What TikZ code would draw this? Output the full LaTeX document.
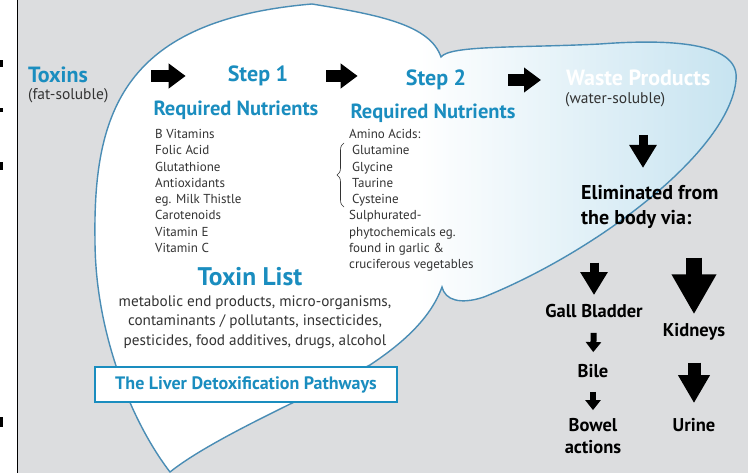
\documentclass[tikz,border=0pt]{standalone}
\usepackage{fontspec}
\setmainfont{PT Sans}
\usepackage{xcolor}
\usepackage{tikz}
\usetikzlibrary{arrows.meta, decorations.pathreplacing}
\definecolor{bggray}{HTML}{DCDDDF}
\definecolor{stepblue}{HTML}{1A8DBF}
\definecolor{liverline}{HTML}{4A8DB5}
\definecolor{liverblue}{HTML}{C6E3F0}
\definecolor{bodytext}{HTML}{333333}
\pgfdeclarehorizontalshading{liverfill}{100bp}{color(0bp)=(white); color(50bp)=(white); color(75bp)=(liverblue); color(100bp)=(liverblue)}
\tikzstyle{heading} = [inner sep=0pt, font=\bfseries\fontsize{22}{26}\selectfont, text=stepblue]
\tikzstyle{subheading} = [inner sep=0pt, font=\bfseries\fontsize{20.5}{24}\selectfont, text=stepblue]
\tikzstyle{note} = [inner sep=0pt, font=\fontsize{15.5}{18}\selectfont, text=bodytext]
\tikzstyle{nutrients} = [inner sep=0pt, anchor=north west, align=left, font=\fontsize{13}{16.3}\selectfont, text=bodytext]
\tikzstyle{organ} = [inner sep=0pt, align=center, font=\bfseries\fontsize{18.5}{22}\selectfont]
\tikzstyle{titlebox} = [draw=stepblue, line width=1.8pt, fill=white, minimum width=302pt, minimum height=35pt, font=\bfseries\fontsize{18}{20}\selectfont, text=stepblue]
\tikzstyle{fwdarrow} = [line width=12pt, -{Triangle[length=17pt, width=24pt]}]
\tikzstyle{droparrow} = [line width=9pt, -{Triangle[length=23pt, width=26pt]}]
\tikzstyle{bigarrow} = [line width=16pt, -{Triangle[length=40pt, width=42pt]}]
\tikzstyle{midarrow} = [line width=13pt, -{Triangle[length=28pt, width=30pt]}]
\tikzstyle{smallarrow} = [line width=6pt, -{Triangle[length=10pt, width=15pt]}]

\begin{document}
\begin{tikzpicture}[x=1pt, y=-1pt]
  \useasboundingbox (0,0) rectangle (748,473);

  % background
  \fill[bggray] (18,0) rectangle (748,473);
  \draw[line width=1pt] (17.5,0) -- (17.5,473);
  \foreach \y/\h in {60/7, 108/4, 162/8, 417/10}
    \fill (0,\y) rectangle (3,\y+\h);

  % liver
  \draw[liverline, line width=1.4pt, shade, shading=liverfill]
    (170,472) .. controls (130,420) and (95,330) .. (95,240)
    .. controls (93,110) and (125,20) .. (312,4)
    .. controls (380,15) and (430,25) .. (441,57)
    .. controls (450,45) and (520,48) .. (600,44)
    .. controls (680,38) and (740,45) .. (736,80)
    .. controls (730,150) and (600,250) .. (484,297)
    .. controls (460,305) and (445,300) .. (442,287)
    .. controls (430,320) and (400,345) .. (370,365)
    .. controls (300,400) and (210,440) .. (170,472) -- cycle;

  \node (toxins) [heading, anchor=west] at (28,75) {Toxins};
  \node (fat sol) [note, anchor=west] at (28,96) {(fat-soluble)};

  \node (step1) [heading] at (258,76) {Step 1};
  \node (req1) [subheading] at (236,110) {Required Nutrients};
  \node (list1) [nutrients] at (155,129) {B Vitamins\\Folic Acid\\Glutathione\\Antioxidants\\eg. Milk Thistle\\Carotenoids\\Vitamin E\\Vitamin C};

  \node (step2) [heading] at (436,80) {Step 2};
  \node (req2) [subheading] at (433,113) {Required Nutrients};
  \node (list2) [nutrients] at (349,129) {Amino Acids:\\\hspace*{3pt}Glutamine\\\hspace*{3pt}Glycine\\\hspace*{3pt}Taurine\\\hspace*{3pt}Cysteine\\Sulphurated-\\phytochemicals eg.\\found in garlic \&\\cruciferous vegetables};
  \draw[decorate, decoration={brace, amplitude=7pt}, line width=0.6pt, bodytext] (344,207) -- (344,143);

  \node (waste) [heading, text=white, anchor=west] at (566,78) {Waste Products};
  \node (water sol) [note, anchor=west] at (565,100) {(water-soluble)};

  \node (toxin list) [inner sep=0pt, font=\bfseries\fontsize{25.5}{28}\selectfont, text=stepblue] at (250,277) {Toxin List};
  \node (toxin text) [inner sep=0pt, align=center, font=\fontsize{15.2}{19.5}\selectfont, text=bodytext] at (255,322) {metabolic end products, micro-organisms,\\contaminants / pollutants, insecticides,\\pesticides, food additives, drugs, alcohol};
  \node (title) [titlebox] at (246,384.5) {The Liver Detoxification Pathways};

  \node (elim) [organ, align=left, anchor=north west, font=\bfseries\fontsize{20}{25}\selectfont] at (581,185) {Eliminated from\\the body via:};
  \node (gall) [organ] at (594,311) {Gall Bladder};
  \node (kidneys) [organ] at (694,332) {Kidneys};
  \node (bile) [organ] at (593,371) {Bile};
  \node (bowel) [organ] at (593,436) {Bowel\\actions};
  \node (urine) [organ] at (694,425) {Urine};

  \draw[fwdarrow, shorten <=63pt, shorten >=42pt] (toxins.east |- step1) -- (step1.west);
  \draw[fwdarrow, shorten <=38pt, shorten >=48pt] (step1.east) -- (step1.east -| step2.west);
  \draw[fwdarrow, shorten <=42pt, shorten >=25pt] (step2.east) -- (step2.east -| waste.west);
  \draw[droparrow, shorten <=27.5pt, shorten >=17pt] (643,0 |- water sol.south) -- (643,0 |- elim.north);
  \draw[droparrow, shorten <=34pt, shorten >=9pt] (elim.south -| gall.north) -- (gall.north);
  \draw[bigarrow, shorten <=29pt, shorten >=9pt] (elim.south -| kidneys.north) -- (kidneys.north);
  \draw[smallarrow, shorten <=15pt, shorten >=12pt] (gall.south) -- (bile.north);
  \draw[smallarrow, shorten <=14pt, shorten >=8pt] (bile.south) -- (bowel.north);
  \draw[midarrow, shorten <=22pt, shorten >=15pt] (kidneys.south) -- (urine.north);

\end{tikzpicture}
\end{document}
